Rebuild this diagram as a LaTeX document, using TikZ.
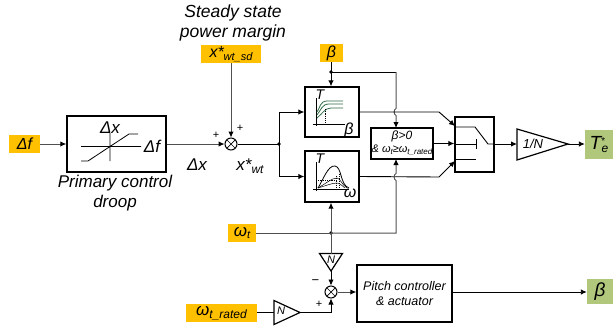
\documentclass[tikz,border=0pt]{standalone}
\usepackage{fontspec}
\setmainfont{Liberation Sans}
\usetikzlibrary{arrows.meta}
\definecolor{tagor}{HTML}{FFC000}
\definecolor{taggr}{HTML}{B0C77C}
\definecolor{lgr}{HTML}{505050}
\definecolor{cgr}{HTML}{2F6B45}
\newcommand{\fs}[1]{\fontsize{#1}{#1}\selectfont}
\newcommand{\sbs}[1]{\raisebox{-2.5pt}{\fontsize{11}{11}\selectfont #1}}
\tikzset{
  blk/.style={draw=black,line width=1.4pt,fill=white,inner sep=0pt},
  tagbox/.style={fill=tagor,inner sep=0pt,font=\itshape\fs{16}},
  outbox/.style={fill=taggr,inner sep=0pt,font=\itshape\fs{19}},
  lab/.style={inner sep=0pt,font=\itshape\fs{16}},
  sgn/.style={inner sep=0pt,font=\fs{11}},
  wire/.style={draw=lgr,line width=1pt},
  bwire/.style={draw=black,line width=0.9pt},
  arr/.style={wire,-{Latex[length=6pt,width=5.5pt,black]}},
  barr/.style={bwire,-{Latex[length=6pt,width=5.5pt,black]}},
  sum/.style={circle,draw=black,line width=1pt,fill=white,minimum size=12pt,inner sep=0pt,
    path picture={\draw[black,line width=0.7pt]
      (path picture bounding box.north west)--(path picture bounding box.south east)
      (path picture bounding box.north east)--(path picture bounding box.south west);}},
  dot/.style={circle,fill=black,inner sep=0pt,minimum size=3.6pt},
  tri/.style={draw=black,line width=1.2pt,fill=white,line join=miter},
  ins/.style={black,line width=0.8pt},
  crv/.style={cgr,line width=0.8pt},
  dsh/.style={black,line width=0.5pt,dash pattern=on 1.2pt off 1pt},
}
\begin{document}
\begin{tikzpicture}[x=1pt,y=-1pt]
\useasboundingbox (0,0) rectangle (613,327);
% texts
\node[lab,font=\itshape\fs{17.5},align=center] (title) at (233,23) {Steady state\\[3pt]power margin};
% boxes
\node[tagbox,minimum width=31pt,minimum height=18pt] (df) at (24.5,144) {Δf};
\node[blk,minimum width=99pt,minimum height=56pt] (droop) at (116.5,144) {};
\node[tagbox,minimum width=60pt,minimum height=18pt] (xsd) at (231,54) {x*\sbs{wt\_sd}};
\node[tagbox,minimum width=23pt,minimum height=18pt] (beta) at (331.5,53) {β};
\node[blk,minimum width=54pt,minimum height=50pt] (b1) at (332,112) {};
\node[blk,minimum width=54pt,minimum height=51pt] (b2) at (332,176.5) {};
\node[blk,minimum width=62pt,minimum height=31pt,align=center,font=\itshape\fs{11}] (b3) at (402,143.5)
  {\fs{12}β>0\\[2pt]\&\ ω\raisebox{-2pt}{\fs{8}t}≥ω\raisebox{-2pt}{\fs{8}t\_rated}};
\node[blk,minimum width=39pt,minimum height=55pt] (sw) at (474.5,144.5) {};
\node[outbox,minimum width=28pt,minimum height=29pt] (te) at (599,144.5) {\fs{19}T\kern-0.5pt\raisebox{5pt}{\fs{10}*}\kern-3pt\raisebox{-3.5pt}{\fs{12}e}};
\node[tagbox,minimum width=28pt,minimum height=18pt] (wt) at (242,233) {\fs{17}ω\sbs{t}};
\node[tagbox,minimum width=71pt,minimum height=18pt] (wtr) at (221.5,313) {\fs{17}ω\sbs{\fs{12}t\_rated}};
\node[blk,minimum width=95pt,minimum height=57pt,align=center,font=\itshape\fs{12.5}] (pitch) at (404.5,293.5) {Pitch controller\\[3pt]\& actuator};
\node[outbox,minimum width=26pt,minimum height=25pt] (bout) at (600,291.5) {β};
\node[sum] (s1) at (231,144) {};
\node[sum] (s2) at (331,292) {};
\node[dot] (j1) at (279,144) {};
\node[dot] (j2) at (331,72) {};
\node[dot] (j3) at (331,233) {};
% triangles
\coordinate (t1a) at (517,129); \coordinate (t1b) at (517,160); \coordinate (t1c) at (568,144);
\draw[tri] (t1a)--(t1c)--(t1b)--cycle;
\coordinate (t1w) at (517,144);
\node[lab,font=\itshape\fs{13}] (t1l) at (533,144) {1/N};
\coordinate (t2a) at (319.5,253.5); \coordinate (t2b) at (342.5,253.5); \coordinate (t2c) at (331,271);
\draw[tri] (t2a)--(t2b)--(t2c)--cycle;
\coordinate (t2t) at (331,253.5);
\node[lab,font=\itshape\fs{11}] (t2l) at (331,260) {N};
\coordinate (t3a) at (274,300.5); \coordinate (t3b) at (274,324.5); \coordinate (t3c) at (300,312.5);
\draw[tri] (t3a)--(t3c)--(t3b)--cycle;
\coordinate (t3w) at (274,312.5);
\node[lab,font=\itshape\fs{11}] (t3l) at (281,311) {N};
% wires
\draw[arr] (df.east) -- (droop.west);
\draw[arr] (droop.east) -- (s1.west);
\draw[arr] (xsd.south) -- (s1.north);
\draw[bwire] (s1.east) -- (j1.center);
\draw[barr] (j1.center) |- (b1.west);
\draw[barr] (j1.center) |- (b2.west);
\draw[barr] (beta.south -| j2) -- (b1.north -| j2);
\coordinate (k1) at (396,72);
\coordinate (k2) at (396,128);
\draw[bwire] (j2.center) -- (k1);
\draw[arr] (k1) -- (396,108.5) .. controls (393.5,109.5) and (393.5,114.5) .. (396,115.5) -- (k2);
\coordinate (b1r) at (439,112); \coordinate (s1i) at (455,126);
\coordinate (b2r) at (439,177); \coordinate (s3i) at (455,161);
\draw[barr] (b1.east) -- (b1r) -- (s1i);
\draw[barr] (b2.east) -- (b2r) -- (s3i);
\draw[barr] (b3.east) -- (b3.east -| sw.west);
\draw[barr] (sw.east |- t1w) -- (t1w);
\draw[barr] (t1c) -- (t1c -| te.west);
\draw[wire] (wt.east) -- (j3.center);
\coordinate (k3) at (396,233);
\coordinate (k4) at (396,159);
\draw[arr] (j3.center) -- (k3) -- (396,180.5) .. controls (393.5,179.5) and (393.5,174.5) .. (396,173.5) -- (k4);
\draw[arr] (j3.center) -- (b2.south -| j3);
\draw[wire] (j3.center) -- (t2t);
\draw[barr] (t2c) -- (s2.north);
\draw[bwire] (wtr.east |- t3w) -- (t3w);
\draw[barr] (t3c) -| (s2.south);
\draw[arr] (s2.east) -- (s2 -| pitch.west);
\draw[barr] (pitch.east |- s2) -- (s2 -| bout.west);
% droop interior
\draw[ins] (81,146.5)--(141,146.5) (110,133)--(110,161) (81,161)--(88,161)--(129,134)--(138,134);
\node[lab,font=\itshape\fs{17}] (dxi) at (110,128) {Δx};
\node[lab,font=\itshape\fs{17}] (dfi) at (152,146) {Δf};
\node[lab,font=\itshape\fs{17},align=center] (pcd) at (115,193) {Primary control\\[3pt]droop};
\node[lab,font=\itshape\fs{17}] (dxo) at (197,165) {Δx};
\node[lab,font=\itshape\fs{17}] (xwt) at (250,166) {x*\sbs{\fs{12}wt}};
\node[sgn] (p1) at (216,135) {+};
\node[sgn] (p2) at (240,128.5) {+};
\node[sgn,font=\fs{13}] (m1) at (315.5,282) {−};
\node[sgn] (p3) at (319,304) {+};
% box 1 interior
\draw[ins] (316,98)--(316,126) (313,124)--(345,124);
\draw[crv] (317,112) .. controls (320,108) and (320,101) .. (327,101) -- (343,101);
\draw[crv] (317,115) .. controls (321,110) and (322,104) .. (329,104) -- (343,104);
\draw[crv] (317,118) .. controls (322,114) and (325,108) .. (331,108) -- (343,108);
\draw[dsh] (325,109)--(325,124);
\node[lab,font=\itshape\fs{14}] (t1) at (320,95) {T};
\node[lab,font=\itshape\fs{16}] (b1l) at (349,130) {β};
% box 2 interior
\draw[ins] (316,162)--(316,191) (313,189)--(349,189);
\draw[ins] (318,188) .. controls (323,180) and (328,165) .. (335,166) .. controls (342,167) and (340,185) .. (349,188);
\draw[ins,line width=0.5pt] (318,188) .. controls (325,184) and (332,178) .. (337,178) .. controls (340,178) and (342,185) .. (347,188);
\draw[ins,line width=0.5pt] (318,188) .. controls (325,186) and (332,183) .. (337,183) .. controls (340,183) and (342,186) .. (345,188);
\draw[dsh] (316,180)--(338,180) (336,176)--(336,189) (339,174)--(339,189);
\node[lab,font=\itshape\fs{14}] (t2) at (320,159) {T};
\node[lab,font=\itshape\fs{16}] (w2l) at (350,193) {ω};
% switch interior
\coordinate (sa) at (475,127); \coordinate (sb) at (488,144);
\draw[ins,line width=0.9pt] (sw.west |- sa) -- (sa) -- (sb) -- (sw.east |- sb);
\draw[ins,line width=0.9pt] (sw.west |- sb) -- (476,144) (476,139)--(476,149) (sw.west |- 0,159.5)--(476,159.5);
\end{tikzpicture}
\end{document}
